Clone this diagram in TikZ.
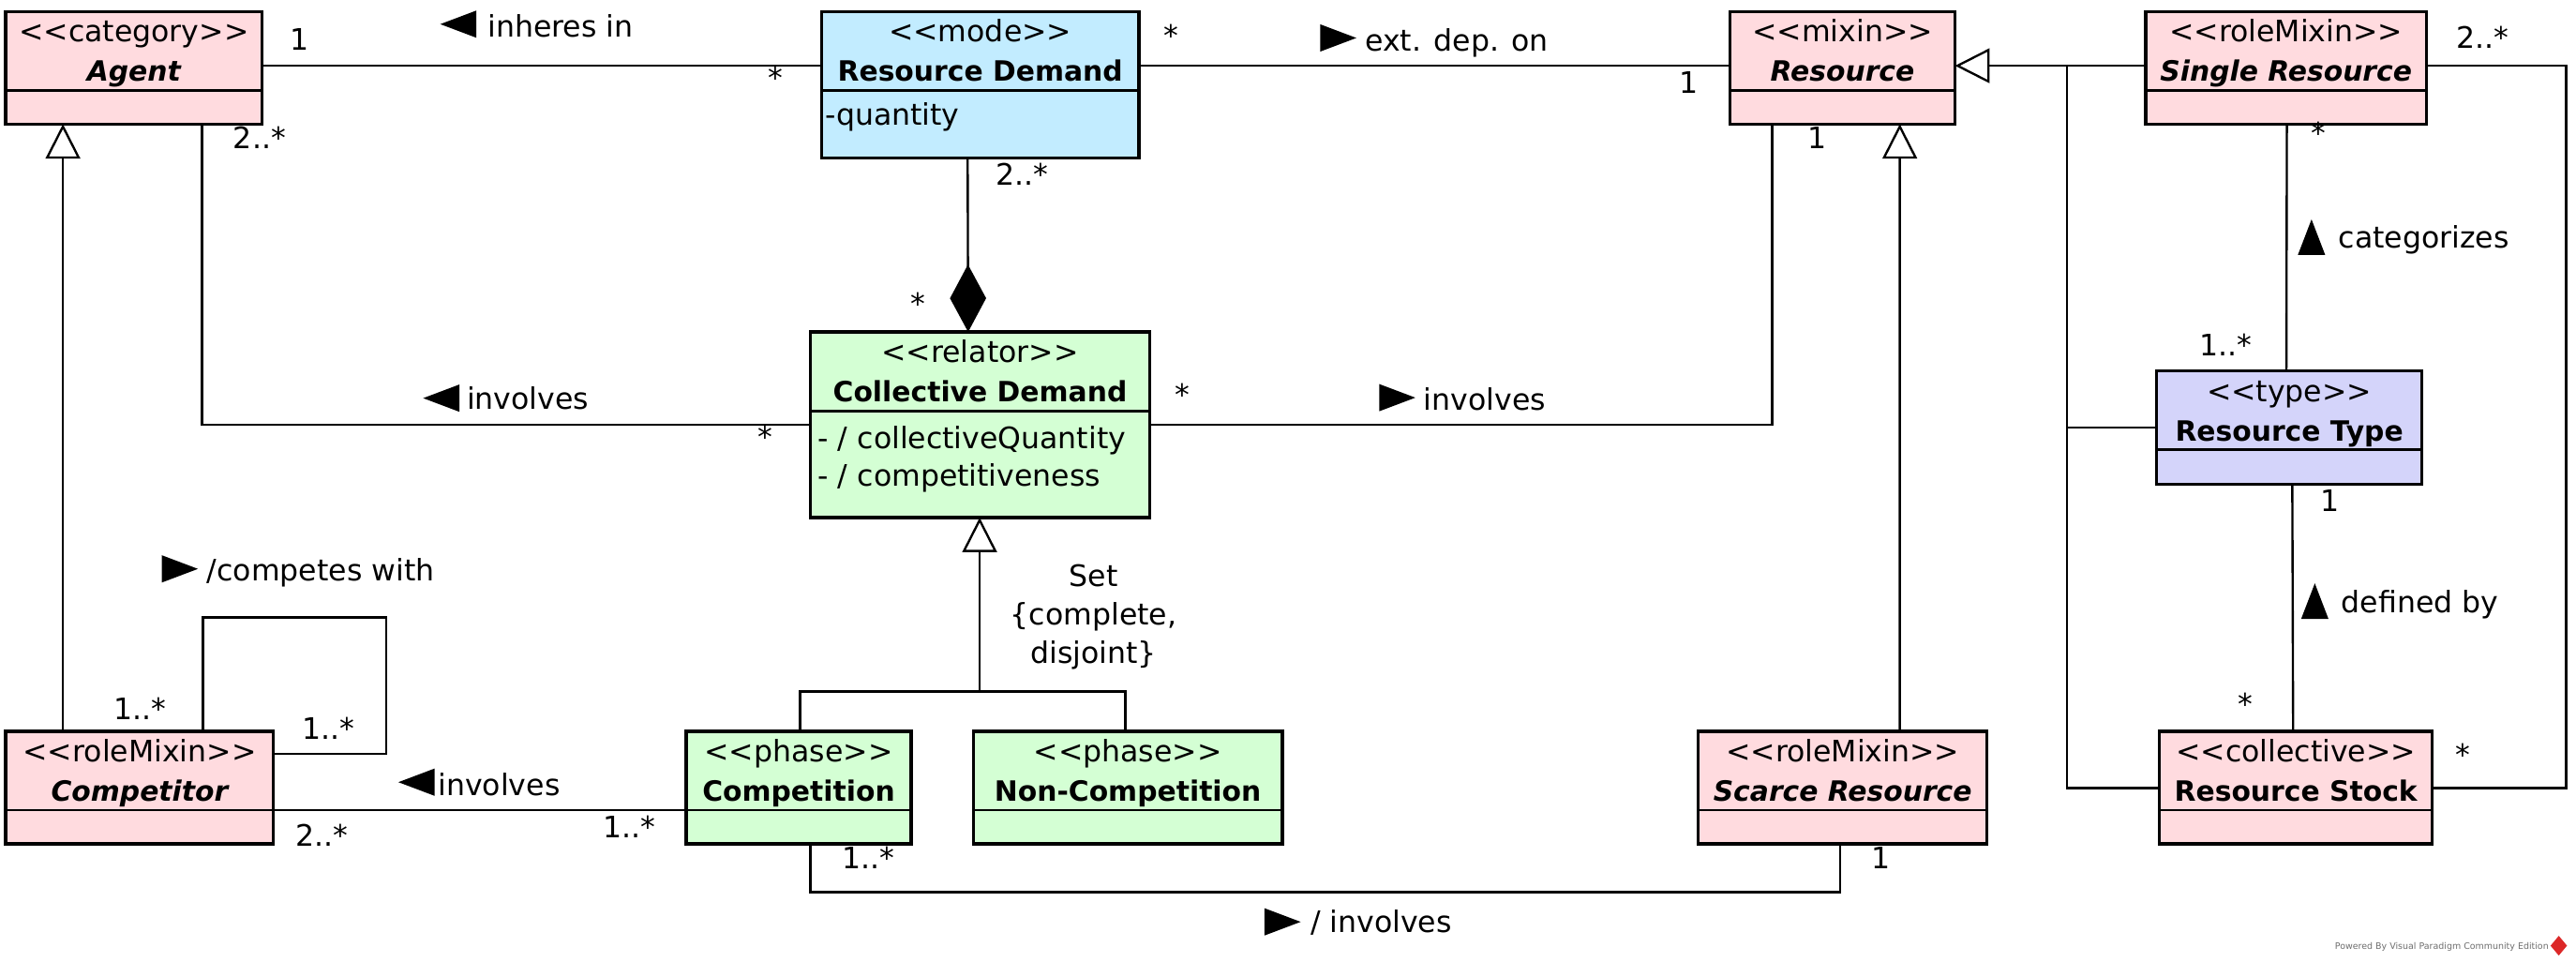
\documentclass[tikz,border=0pt]{standalone}
\usepackage{fontspec}
\setmainfont{DejaVu Sans}
\usetikzlibrary{arrows.meta,calc}
\definecolor{cpink}{RGB}{255,219,223}
\definecolor{cblue}{RGB}{194,236,255}
\definecolor{cgreen}{RGB}{212,255,212}
\definecolor{cpurple}{RGB}{212,212,250}
\definecolor{cgraytxt}{RGB}{110,110,110}
\definecolor{cvpred}{RGB}{220,40,40}
\newcommand\regfont{\fontsize{18}{22}\selectfont}
\newcommand\clsfont{\fontsize{17}{21}\selectfont\bfseries}
\newcommand\stt[1]{<{}<#1>{}>}
% class box: name, cx, cy, w, h, fill, stereotype, title, extra shape
\newcommand\UmlClass[9]{%
  \node[classbox, fill=#6, minimum width=#4pt, minimum height=#5pt] (#1) at (#2,#3) {};
  \draw[sepline] ($(#1.north west)+(0,48)$) -- ($(#1.north east)+(0,48)$);
  \node[stereo] (#1-st) at ($(#1.north)+(0,18.6)$) {\stt{#7}};
  \node[cname, font=\clsfont#9] (#1-nm) at ($(#1.north)+(0,42.6)$) {#8};
}
\newcommand\DirL[2]{\fill (#1,#2) -- ++(22,-8.3) -- ++(0,16.6) -- cycle;}
\newcommand\DirR[2]{\fill (#1,#2) ++(0,-8.3) -- ++(0,16.6) -- ++(22,-8.3) -- cycle;}
\newcommand\DirU[2]{\fill (#1,#2) -- ++(8.3,21.6) -- ++(-16.6,0) -- cycle;}
\begin{document}
\begin{tikzpicture}[x=1pt,y=-1pt,
  classbox/.style={draw, line width=1.9pt, inner sep=0pt, outer sep=0pt},
  sepline/.style={line width=1.6pt},
  stereo/.style={anchor=base, inner sep=0pt, font=\regfont},
  cname/.style={anchor=base, inner sep=0pt},
  attr/.style={anchor=base west, inner sep=0pt, font=\regfont},
  conn/.style={line width=1.35pt},
  gen/.style={conn, -{Triangle[open, fill=white, length=21pt, width=21pt]}},
  compo/.style={conn, {Diamond[length=41pt, width=22pt]}-},
  mult/.style={inner sep=0pt, font=\regfont},
  lbl/.style={anchor=base west, inner sep=0pt, font=\regfont}]

\fill[white] (0,0) rectangle (1568,585.4);
\useasboundingbox (0,0) rectangle (1568,585.4);

% ---------- classes ----------
\UmlClass{agent}{81.5}{41.25}{156}{68.5}{cpink}{category}{Agent}{\itshape}
\UmlClass{rd}{596.65}{51.5}{193.3}{89}{cblue}{mode}{Resource Demand}{}
\UmlClass{res}{1121.5}{41.25}{137}{68.5}{cpink}{mixin}{Resource}{\itshape}
\UmlClass{single}{1391.5}{41.25}{171}{68.5}{cpink}{roleMixin}{Single Resource}{\itshape}
\UmlClass{cd}{596.55}{258.5}{206.5}{113}{cgreen}{relator}{Collective Demand}{}
\UmlClass{rt}{1393.45}{260.3}{161.5}{69}{cpurple}{type}{Resource Type}{}
\UmlClass{comp}{85}{479.25}{163}{68.5}{cpink}{roleMixin}{Competitor}{\itshape}
\UmlClass{cmp}{486.15}{479.25}{136.9}{68.5}{cgreen}{phase}{Competition}{}
\UmlClass{noncmp}{686.5}{479.25}{188}{68.5}{cgreen}{phase}{Non-Competition}{}
\UmlClass{scarce}{1121.6}{479.25}{175.8}{68.5}{cpink}{roleMixin}{Scarce Resource}{\itshape}
\UmlClass{stock}{1397.5}{479.25}{166}{68.5}{cpink}{collective}{Resource Stock}{}

\node[attr] (rd-a1) at ($(rd.north west)+(2.3,69)$) {-quantity};
\node[attr] (cd-a1) at ($(cd.north west)+(4.4,70.9)$) {- / collectiveQuantity};
\node[attr] (cd-a2) at ($(cd.north west)+(4.4,94)$) {- / competitiveness};

% ---------- connectors ----------
\draw[conn] ($(agent.north east)+(0,33)$) -- ($(rd.north west)+(0,33)$);
\draw[conn] ($(rd.north east)+(0,33)$) -- ($(res.north west)+(0,33)$);
\draw[compo] ($(cd.north west)+(96,0)$) -- ($(rd.south west)+(89,0)$);
\draw[conn] ($(agent.south west)+(119.5,0)$) |- (cd.west);
\draw[conn] (cd.east) -| ($(res.south west)+(25.8,0)$);
\draw[gen] ($(comp.north west)+(34.8,0)$) -- ($(agent.south west)+(34.8,0)$);
\draw[conn] ($(comp.north west)+(120,0)$) |- ($(comp.north west)+(231.5,-69.3)$) |- ($(comp.north east)+(0,13.7)$);
\draw[conn] ($(comp.north east)+(0,48)$) -- ($(cmp.north west)+(0,48)$);
\coordinate (gsj) at ($(cd.south west)+(103,105.8)$);
\draw[conn] ($(cmp.north west)+(69.3,0)$) |- (gsj) -| ($(noncmp.north west)+(92.5,0)$);
\draw[gen] (gsj) -- ($(cd.south west)+(103,0)$);
\draw[conn] ($(cmp.south west)+(75.6,0)$) |- ($(scarce.south west)+(86.3,29.5)$) -- ($(scarce.south west)+(86.3,0)$);
\draw[gen] ($(scarce.north west)+(122.7,0)$) -- ($(res.south west)+(103.4,0)$);
\draw[gen] ($(single.north west)+(0,33)$) -- ($(res.north east)+(0,33)$);
\coordinate (tj) at ($(res.north east)+(68.3,33)$);
\draw[conn] (tj) |- (rt.west);
\draw[conn] (tj) |- ($(stock.north west)+(0,34.5)$);
\draw[conn] ($(single.south west)+(86,0)$) -- ($(rt.north west)+(79,0)$);
\draw[conn] ($(rt.south west)+(82.6,0)$) -- ($(stock.north west)+(81.3,0)$);
\coordinate (rr) at ($(single.north east)+(85,33)$);
\draw[conn] ($(single.north east)+(0,33)$) -- (rr) |- ($(stock.north east)+(0,34.5)$);

% ---------- multiplicities ----------
\node[mult] (m1) at (182.6,24) {1};
\node[mult] (m2) at (472,47) {*};
\node[mult] (m3) at (713,21.3) {*};
\node[mult] (m4) at (1028,50) {1};
\node[mult] (m5) at (622,106) {2..*};
\node[mult] (m6) at (559,185) {*};
\node[mult] (m7) at (158,84) {2..*};
\node[mult] (m8) at (466,266) {*};
\node[mult] (m9) at (720,240) {*};
\node[mult] (m10) at (1106,84) {1};
\node[mult] (m11) at (85,431) {1..*};
\node[mult] (m12) at (200,443.5) {1..*};
\node[mult] (m13) at (196,508.5) {2..*};
\node[mult] (m14) at (383,503) {1..*};
\node[mult] (m15) at (528.6,521.8) {1..*};
\node[mult] (m16) at (1145,522) {1};
\node[mult] (m17) at (1411.5,81) {*};
\node[mult] (m18) at (1355,210) {1..*};
\node[mult] (m19) at (1418,304.5) {1};
\node[mult] (m20) at (1367,428.6) {*};
\node[mult] (m21) at (1511,22.6) {2..*};
\node[mult] (m22) at (1499,459) {*};

% ---------- association names ----------
\DirL{268}{14.7}
\node[lbl] (l1) at (296.7,22.4) {inheres in};
\DirR{803.6}{23.1}
\node[lbl] (l2) at (830.8,31) {ext. dep. on};
\DirL{257.6}{242.3}
\node[lbl] (l3) at (284,249.2) {involves};
\DirR{839.5}{242}
\node[lbl] (l4) at (866.5,249.6) {involves};
\DirR{98.5}{346.2}
\node[lbl] (l5) at (125.8,353.4) {/competes with};
\DirL{242.5}{476}
\node[lbl] (l6) at (266.5,484) {involves};
\DirR{769.7}{561}
\node[lbl] (l7) at (797.5,567.4) {/ involves};
\DirU{1407}{133.5}
\node[lbl] (l8) at (1423.3,151.2) {categorizes};
\DirU{1409}{355}
\node[lbl] (l9) at (1425,372.6) {defined by};

\node[align=center, inner sep=0pt, font=\fontsize{18}{23.5}\selectfont] (gset) at (665.6,375.5) {Set\\\{complete,\\disjoint\}};

% ---------- footer ----------
\node[anchor=east, inner sep=0pt, text=cgraytxt, font=\fontsize{5.4}{6}\selectfont] (pw) at (1551.5,576) {Powered By Visual Paradigm Community Edition};
\fill[cvpred] (1557.5,569.5) -- (1562.5,575.5) -- (1557.5,581.5) -- (1552.5,575.5) -- cycle;
\end{tikzpicture}
\end{document}
